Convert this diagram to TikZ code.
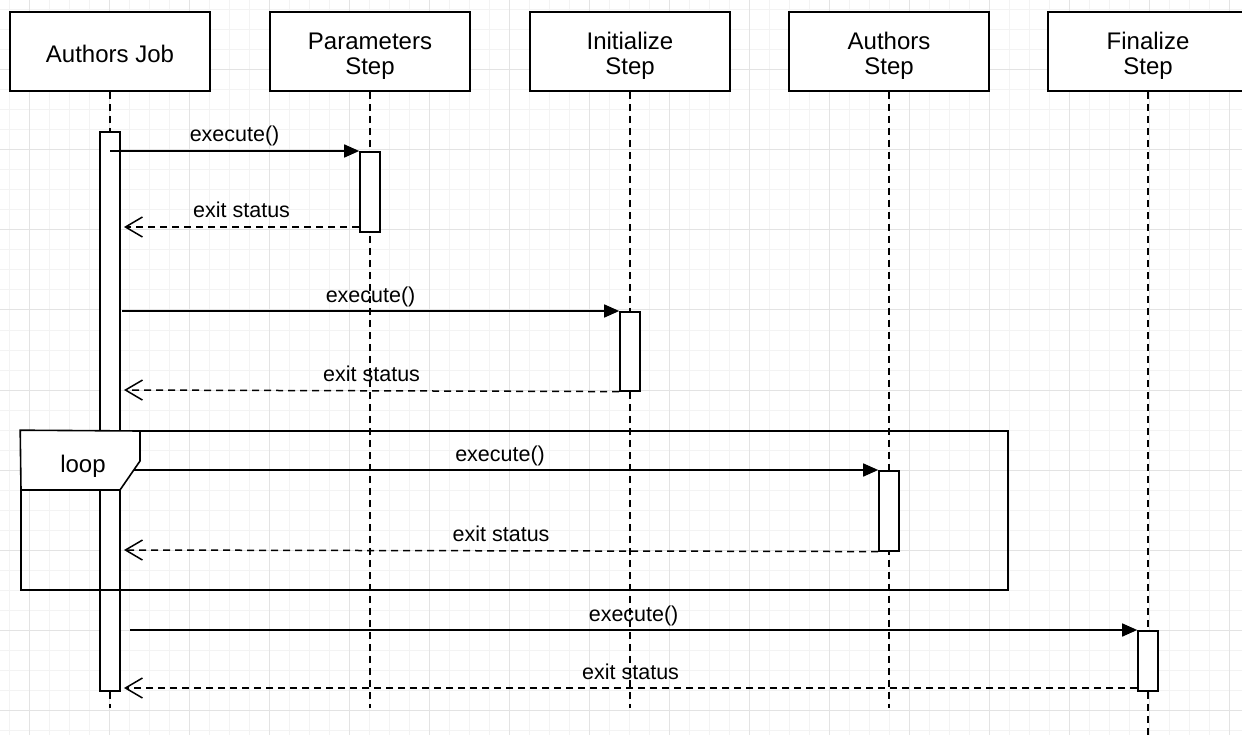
\documentclass[tikz,border=0pt]{standalone}
\usepackage{fontspec}
\setmainfont{Liberation Sans}
\usetikzlibrary{arrows.meta}
\definecolor{gridminor}{HTML}{F3F3F3}
\definecolor{gridmajor}{HTML}{E3E3E3}
\begin{document}
\begin{tikzpicture}[x=1pt,y=-1pt,
  head/.style={draw, line width=1.6pt, minimum width=200pt, minimum height=79pt, inner sep=0pt, fill=white},
  headtxt/.style={anchor=base, inner sep=0pt, font=\fontsize{24}{25}\selectfont},
  life/.style={line width=1.5pt, dash pattern=on 7pt off 5pt},
  act/.style={draw, fill=white, line width=1.6pt, minimum width=20pt, inner sep=0pt, anchor=north},
  call/.style={line width=1.6pt, -{Triangle[length=15pt,width=13pt]}},
  ret/.style={line width=1.5pt, dash pattern=on 7pt off 5pt, -{Straight Barb[length=17pt,width=20pt,line width=1.5pt]}},
  lbl/.style={anchor=base, inner sep=0pt, yshift=9pt, font=\fontsize{21.5}{24}\selectfont},
  frame/.style={draw, line width=1.6pt, inner sep=0pt},
]
% canvas and grid
\fill[white] (0,0) rectangle (1242,735);
\clip (0,0) rectangle (1242,735);
\foreach \x in {9,29,...,1249} \draw[gridminor, line width=1pt] (\x,0) -- (\x,735);
\foreach \y in {10,30,...,730} \draw[gridminor, line width=1pt] (0,\y) -- (1242,\y);
\foreach \x in {29,109,...,1229} \draw[gridmajor, line width=1pt] (\x,0) -- (\x,735);
\foreach \y in {70,150,...,710} \draw[gridmajor, line width=1pt] (0,\y) -- (1242,\y);

% lifeline heads
\node[head] (hj) at (110,51.5) {};
\node[head] (hp) at (370,51.5) {};
\node[head] (hi) at (630,51.5) {};
\node[head] (ha) at (889,51.5) {};
\node[head] (hf) at (1148,51.5) {};
\node[headtxt] (tj) at (110,63) {Authors Job};
\node[headtxt] (tp) at (370,50) {\begin{tabular}[t]{@{}c@{}}Parameters\\Step\end{tabular}};
\node[headtxt] (ti) at (630,50) {\begin{tabular}[t]{@{}c@{}}Initialize\\Step\end{tabular}};
\node[headtxt] (ta) at (889,50) {\begin{tabular}[t]{@{}c@{}}Authors\\Step\end{tabular}};
\node[headtxt] (tf) at (1148,50) {\begin{tabular}[t]{@{}c@{}}Finalize\\Step\end{tabular}};

% lifelines
\coordinate (ej) at (110,708);
\coordinate (ep) at (370,708);
\coordinate (ei) at (630,708);
\coordinate (ea) at (889,708);
\coordinate (ef) at (1148,740);
\draw[life] (hj.south) -- (ej);
\draw[life] (hp.south) -- (ep);
\draw[life] (hi.south) -- (ei);
\draw[life] (ha.south) -- (ea);
\draw[life] (hf.south) -- (ef);

% activation bars
\node[act, minimum height=559pt] (aj) at (110,131) {};
\node[act, minimum height=80pt] (ap) at (370,151) {};
\node[act, minimum height=79pt] (ai) at (630,311) {};
\node[act, minimum height=80pt] (aa) at (889,470) {};
\node[act, minimum height=60pt] (af) at (1148,630) {};

% message end points on the job side
\coordinate (s3) at (122,311);
\coordinate (s5) at (122,470);
\coordinate (s7) at (130,630);
\coordinate (r2) at (124,227);
\coordinate (r4) at (124,390);
\coordinate (r6) at (124,550);
\coordinate (r8) at (124,688);

% messages
\draw[call] (aj.center |- ap.north) -- (ap.north west) node[lbl, midway] {execute()};
\draw[ret] (ap.west |- r2) -- (r2) node[lbl, midway] {exit status};
\draw[call] (s3) -- (ai.north west) node[lbl, midway] {execute()};
\draw[ret] (ai.south west) -- (r4) node[lbl, midway] {exit status};
\draw[call] (s5) -- (aa.north west) node[lbl, midway] {execute()};
\draw[ret] (aa.south west) -- (r6) node[lbl, midway] {exit status};
\draw[call] (s7) -- (af.north west) node[lbl, midway] {execute()};
\draw[ret] (af.west |- r8) -- (r8) node[lbl, midway] {exit status};

% loop fragment
\node[frame, minimum width=987pt, minimum height=159pt] (lp) at (514.5,510.5) {};
\filldraw[fill=white, line width=1.6pt, line join=miter]
  (lp.north west) -- (140,431) -- (140,461) -- (120,490) -- (21,490) -- cycle;
\node[headtxt] (lt) at (83,472) {loop};
\end{tikzpicture}
\end{document}
